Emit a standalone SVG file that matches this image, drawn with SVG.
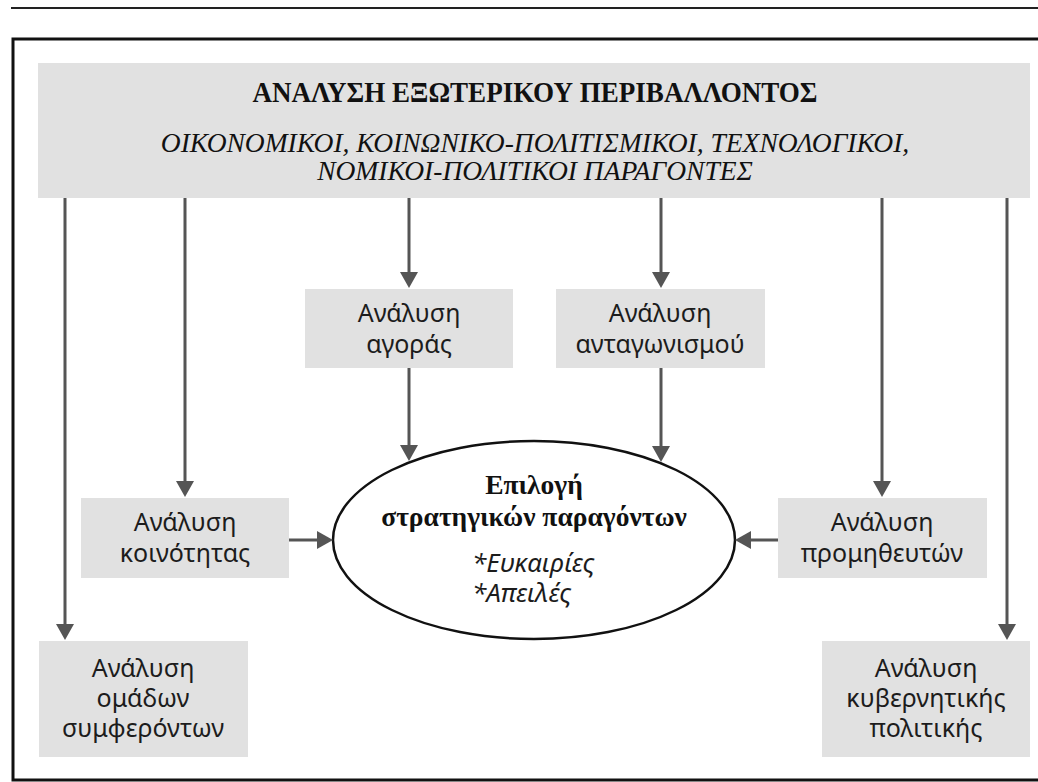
<svg xmlns="http://www.w3.org/2000/svg" width="1038" height="782" viewBox="0 0 1038 782">
  <defs>
    <marker id="arrow" markerUnits="userSpaceOnUse" markerWidth="18" markerHeight="18" refX="8" refY="9" orient="auto">
      <path d="M0,0 L16,9 L0,18 Z" fill="#555555"/>
    </marker>
    <style>
      .box { fill: #e1e1e1; }
      .lbl { font-family: "Noto Sans", "DejaVu Sans", sans-serif; font-size: 25px; fill: #1c1c1c; text-anchor: middle; }
      .conn line { stroke: #555555; stroke-width: 3; marker-end: url(#arrow); }
      .title { font-family: "Liberation Serif", "DejaVu Serif", serif; font-weight: bold; font-size: 30px; fill: #111; text-anchor: middle; }
      .sub { font-family: "Liberation Serif", "DejaVu Serif", serif; font-style: italic; font-size: 27.5px; fill: #111; text-anchor: middle; }
      .core { font-family: "Liberation Serif", "DejaVu Serif", serif; font-weight: bold; font-size: 27.5px; fill: #111; text-anchor: middle; }
      .item { font-family: "Noto Sans", "DejaVu Sans", sans-serif; font-style: italic; font-size: 26px; fill: #1c1c1c; }
    </style>
  </defs>

  <rect width="1038" height="782" fill="#ffffff"/>

  <!-- page rule and frame -->
  <line x1="11" y1="8" x2="1038" y2="8" stroke="#222" stroke-width="2"/>
  <path d="M1040,39 L13,39 L13,780 L1040,780" fill="none" stroke="#111" stroke-width="3"/>

  <!-- external environment -->
  <g id="external-environment">
    <rect class="box" x="38" y="63" width="992" height="135"/>
    <text class="title" x="535" y="102" textLength="565" lengthAdjust="spacingAndGlyphs">ΑΝΑΛΥΣΗ ΕΞΩΤΕΡΙΚΟΥ ΠΕΡΙΒΑΛΛΟΝΤΟΣ</text>
    <text class="sub" x="535" y="152">ΟΙΚΟΝΟΜΙΚΟΙ, ΚΟΙΝΩΝΙΚΟ-ΠΟΛΙΤΙΣΜΙΚΟΙ, ΤΕΧΝΟΛΟΓΙΚΟΙ,</text>
    <text class="sub" x="535" y="180">ΝΟΜΙΚΟΙ-ΠΟΛΙΤΙΚΟΙ ΠΑΡΑΓΟΝΤΕΣ</text>
  </g>

  <g id="market">
    <rect class="box" x="305" y="289" width="208" height="79"/>
    <text class="lbl" x="409" y="322">Ανάλυση</text>
    <text class="lbl" x="409" y="353">αγοράς</text>
  </g>

  <g id="competition">
    <rect class="box" x="556" y="289" width="209" height="79"/>
    <text class="lbl" x="660" y="322">Ανάλυση</text>
    <text class="lbl" x="660" y="353">ανταγωνισμού</text>
  </g>

  <g id="community">
    <rect class="box" x="81" y="498" width="208" height="80"/>
    <text class="lbl" x="185" y="531">Ανάλυση</text>
    <text class="lbl" x="185" y="562">κοινότητας</text>
  </g>

  <g id="suppliers">
    <rect class="box" x="778" y="498" width="209" height="80"/>
    <text class="lbl" x="882" y="531">Ανάλυση</text>
    <text class="lbl" x="882" y="562">προμηθευτών</text>
  </g>

  <g id="interest-groups">
    <rect class="box" x="39" y="641" width="209" height="116"/>
    <text class="lbl" x="143" y="677">Ανάλυση</text>
    <text class="lbl" x="143" y="707">ομάδων</text>
    <text class="lbl" x="143" y="737">συμφερόντων</text>
  </g>

  <g id="government-policy">
    <rect class="box" x="822" y="641" width="208" height="116"/>
    <text class="lbl" x="926" y="677">Ανάλυση</text>
    <text class="lbl" x="926" y="707">κυβερνητικής</text>
    <text class="lbl" x="926" y="737">πολιτικής</text>
  </g>

  <g id="strategic-factors">
    <ellipse cx="534" cy="540" rx="201" ry="99" fill="#ffffff" stroke="#111" stroke-width="2.5"/>
    <text class="core" x="534" y="494">Επιλογή</text>
    <text class="core" x="534" y="526">στρατηγικών παραγόντων</text>
    <text class="item" x="472" y="572">*Ευκαιρίες</text>
    <text class="item" x="472" y="602">*Απειλές</text>
  </g>

  <!-- connectors -->
  <g id="connectors" class="conn">
    <line x1="65" y1="198" x2="65" y2="632"/>
    <line x1="185" y1="198" x2="185" y2="489"/>
    <line x1="409" y1="198" x2="409" y2="280"/>
    <line x1="661" y1="198" x2="661" y2="280"/>
    <line x1="882" y1="198" x2="882" y2="489"/>
    <line x1="1007" y1="198" x2="1007" y2="632"/>
    <line x1="409" y1="368" x2="409" y2="453"/>
    <line x1="661" y1="368" x2="661" y2="454"/>
    <line x1="289" y1="540" x2="325" y2="540"/>
    <line x1="778" y1="540" x2="743" y2="540"/>
  </g>
</svg>
